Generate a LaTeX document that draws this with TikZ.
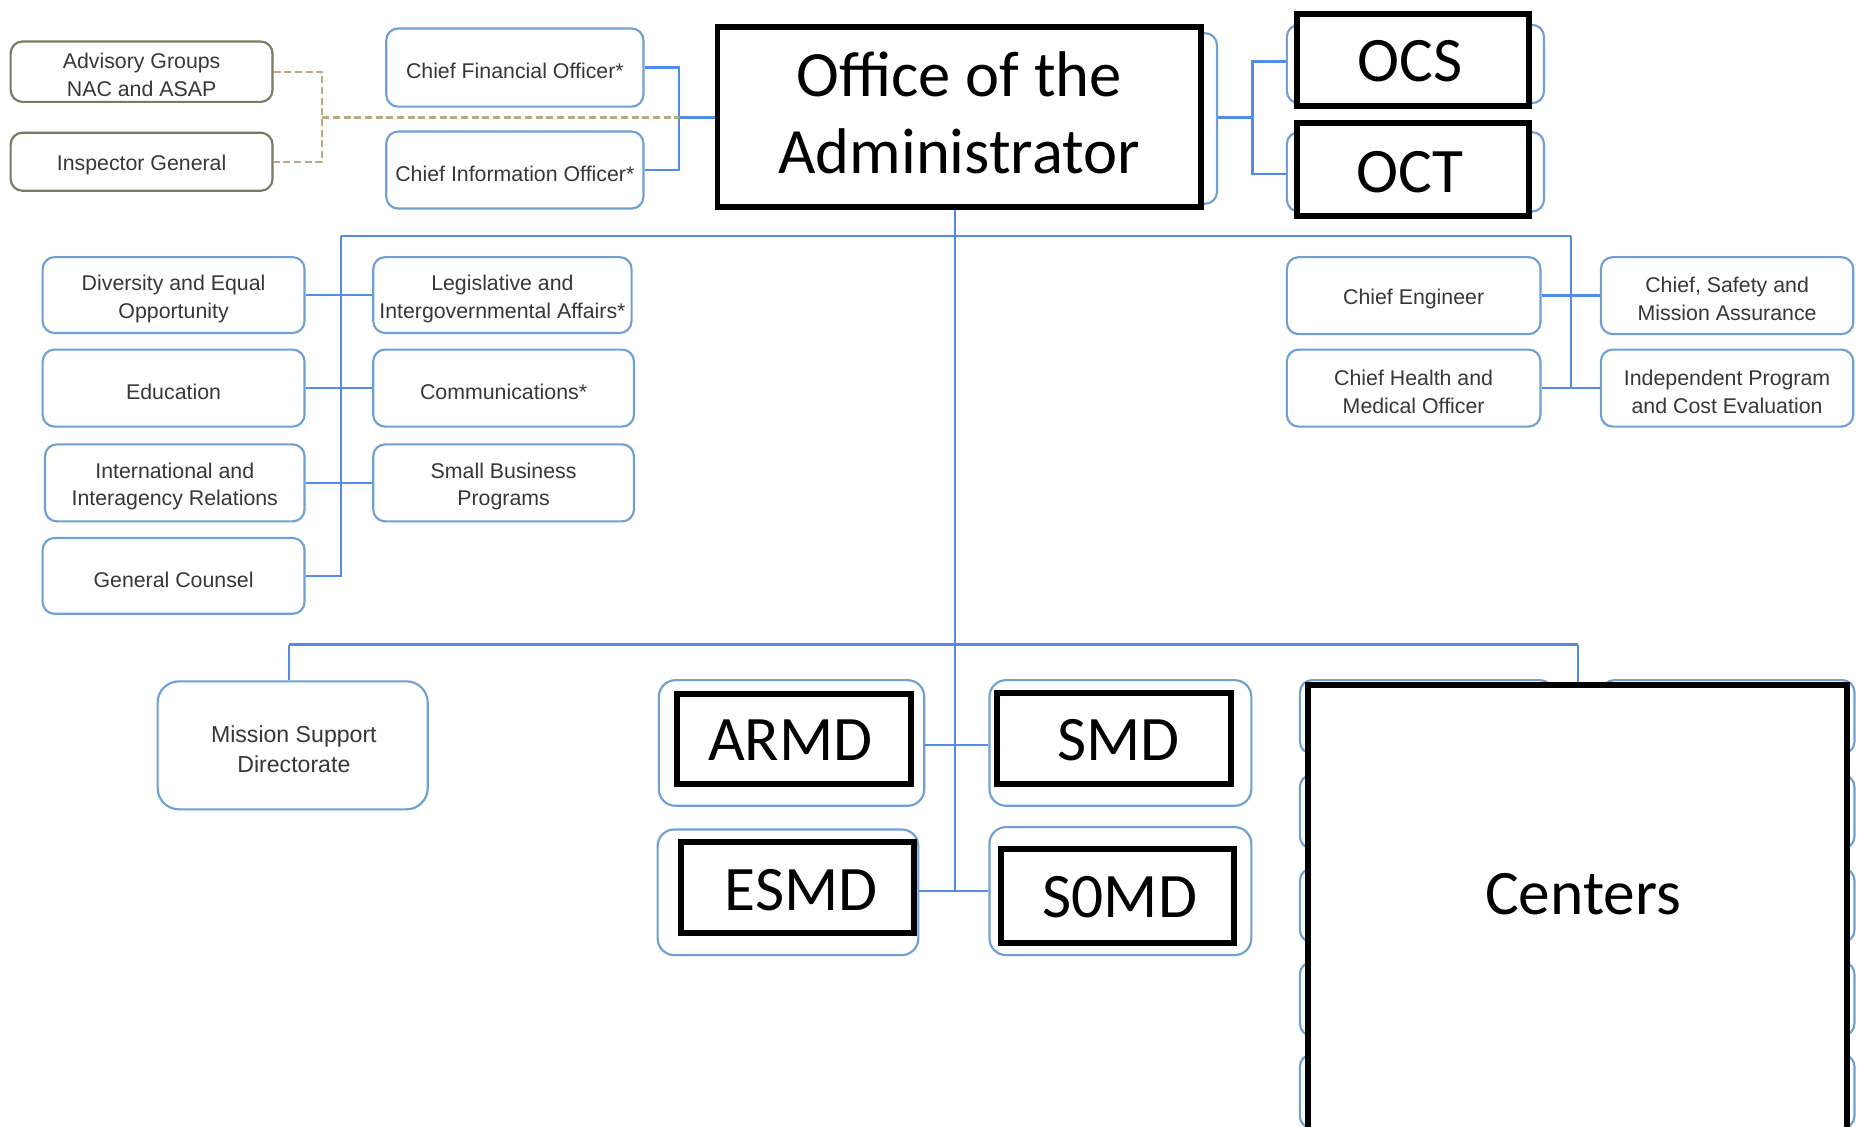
\documentclass[tikz,border=0pt]{standalone}
\usepackage{fontspec}
\setmainfont{Liberation Sans}
\newfontfamily\calib{Carlito}
\definecolor{boxblue}{RGB}{110,160,214}
\definecolor{linblue}{RGB}{80,140,232}
\definecolor{olivebd}{RGB}{125,120,96}
\definecolor{khaki}{RGB}{184,172,126}
\definecolor{txtgray}{RGB}{55,55,55}
\tikzset{
  bluebox/.style={draw=boxblue, line width=1.8pt, rounded corners=10pt, fill=white, inner sep=0pt},
  txt/.style={text=txtgray, align=center, inner sep=0pt, font=\fontsize{18}{23.5}\selectfont},
  blkbox/.style={draw=black, line width=5pt, fill=white, inner sep=0pt, align=center,
    font=\calib\fontsize{53.5}{65}\selectfont},
  bigtxt/.style={inner sep=0pt, align=center, font=\calib\fontsize{53.5}{65}\selectfont},
  conn/.style={draw=linblue, line width=2pt},
  dconn/.style={draw=khaki, line width=2pt, dash pattern=on 6pt off 3pt},
}
\newcommand\orgbox[6][]{%
  \node[bluebox,#1, minimum width=#4pt, minimum height=#5pt] (#2) at (#3) {};
  \node[txt] (#2t) at ([yshift=-3pt]#2.center) {#6};}
\begin{document}
\begin{tikzpicture}[x=1pt,y=-1pt]
\fill[white] (0,0) rectangle (1568,951);
\useasboundingbox (0,0) rectangle (1568,951);

% top-left group
\orgbox[draw=olivebd]{adv}{119.5,60.5}{221}{51}{Advisory Groups\\NAC and ASAP}
\orgbox[draw=olivebd]{ig}{119.5,136.5}{221}{49}{Inspector General}
\orgbox{cfo}{434.5,57}{217}{66}{Chief Financial Officer*}
\orgbox{cio}{434.5,143.5}{217}{65}{Chief Information Officer*}

% office of the administrator
\node[bluebox, minimum width=417pt, minimum height=144pt] (offb) at (818.5,100) {};
\node[blkbox, minimum width=408pt, minimum height=152pt] (off) at (809.5,98.5) {};
\node[bigtxt, font=\calib\fontsize{54.5}{65}\selectfont] (offt) at (809.5,95.5) {Office of the\\Administrator};

% OCS / OCT
\node[bluebox, minimum width=217pt, minimum height=66pt] (ocsb) at (1194.5,54) {};
\node[blkbox, minimum width=196pt, minimum height=78pt] (ocs) at (1192.5,50.5) {};
\node[bigtxt] (ocst) at (1190,52) {OCS};
\node[bluebox, minimum width=217pt, minimum height=67pt] (octb) at (1194.5,145) {};
\node[blkbox, minimum width=196pt, minimum height=79pt] (oct) at (1192.5,143) {};
\node[bigtxt] (octt) at (1190,145) {OCT};

% left staff offices
\orgbox{deo}{146.5,249}{221}{64}{Diversity and Equal\\Opportunity}
\orgbox{edu}{146.5,327.5}{221}{65}{Education}
\orgbox{iir}{147.5,407.5}{219}{65}{International and\\Interagency Relations}
\orgbox{gc}{146.5,486}{221}{64}{General Counsel}
\orgbox{lia}{424,249}{218}{64}{Legislative and\\Intergovernmental Affairs*}
\orgbox{comm}{425,327.5}{220}{65}{Communications*}
\orgbox{sbp}{425,407.5}{220}{65}{Small Business\\Programs}

% right staff offices
\orgbox{ce}{1193,249.5}{214}{65}{Chief Engineer}
\orgbox{chmo}{1193,327.5}{214}{65}{Chief Health and\\Medical Officer}
\orgbox{csma}{1457.5,249.5}{213}{65}{Chief, Safety and\\Mission Assurance}
\orgbox{ipce}{1457.5,327.5}{213}{65}{Independent Program\\and Cost Evaluation}

% mission support
\node[bluebox, rounded corners=18pt, minimum width=228pt, minimum height=108pt] (msd) at (247,629) {};
\node[txt, font=\fontsize{19.5}{25}\selectfont] (msdt) at (248,632.5) {Mission Support\\Directorate};

% mission directorates
\node[bluebox, rounded corners=14pt, minimum width=224pt, minimum height=106pt] (armdb) at (668,627) {};
\node[blkbox, minimum width=197pt, minimum height=76pt] (armd) at (670,623.5) {};
\node[bigtxt] (armdt) at (667,625) {ARMD};
\node[bluebox, rounded corners=14pt, minimum width=221pt, minimum height=106pt] (smdb) at (945.5,627) {};
\node[blkbox, minimum width=197pt, minimum height=77pt] (smd) at (940,623) {};
\node[bigtxt] (smdt) at (944,625) {SMD};
\node[bluebox, rounded corners=14pt, minimum width=220pt, minimum height=106pt] (esmdb) at (665,753) {};
\node[blkbox, minimum width=197pt, minimum height=77pt] (esmd) at (673,749) {};
\node[bigtxt] (esmdt) at (676,751) {ESMD};
\node[bluebox, rounded corners=14pt, minimum width=221pt, minimum height=108pt] (somdb) at (945.5,752) {};
\node[blkbox, minimum width=197pt, minimum height=79pt] (somd) at (943,756) {};
\node[bigtxt] (somdt) at (945,757) {S0MD};

% centers (underlying boxes)
\foreach \i/\yc in {1/605, 2/685, 3/764, 4/843, 5/921}{
  \node[bluebox, minimum width=213pt, minimum height=62pt] (cl\i) at (1203.5,\yc) {};
  \node[bluebox, minimum width=213pt, minimum height=62pt] (cr\i) at (1458.5,\yc) {};
}
\node[blkbox, minimum width=455pt, minimum height=377pt] (centers) at (1331,766.5) {};
\node[bigtxt] (centerst) at (1336,755) {Centers};

% connectors: top-left
\coordinate (brL) at (573,99);
\coordinate (dj) at (272,99);
\draw[conn] (cfo.east) -| (brL) |- (cio.east);
\draw[conn] (brL) -- (off.west |- brL);
\draw[dconn] (adv.east) -| (dj) |- (ig.east);
\draw[dconn] (dj) -- (brL);

% connectors: top-right
\coordinate (brR) at (1057,99);
\draw[conn] (offb.east |- brR) -- (brR);
\draw[conn] (ocsb.west |- 0,52) -| (brR) |- (octb.west |- 0,147);

% main trunk and buses
\coordinate (busL) at (288,199);
\coordinate (busR) at (1326,199);
\coordinate (trunk) at (806,199);
\coordinate (trunkbot) at (806,752);
\coordinate (lbusL) at (244,544);
\coordinate (lbusR) at (1332,544);
\draw[conn] (off.south -| trunk) -- (trunkbot);
\draw[conn] (busL) -- (busR);
\draw[conn] (busL) |- (gc.east);
\draw[conn] (deo.east) -- (lia.west);
\draw[conn] (edu.east) -- (comm.west);
\draw[conn] (iir.east) -- (sbp.west);
\draw[conn] (busR) -- (busR |- chmo.east);
\draw[conn] (ce.east) -- (csma.west);
\draw[conn] (chmo.east) -- (ipce.west);
\draw[conn] (lbusL) -- (lbusR);
\draw[conn, line width=1.5pt] (lbusL) -- (msd.north -| lbusL);
\draw[conn, line width=1.5pt] (lbusR) -- (centers.north -| lbusR);
\draw[conn, line width=1.5pt] (armdb.east |- 0,629) -- (smdb.west |- 0,629);
\draw[conn, line width=1.5pt] (esmdb.east |- trunkbot) -- (somdb.west |- trunkbot);
\end{tikzpicture}
\end{document}
